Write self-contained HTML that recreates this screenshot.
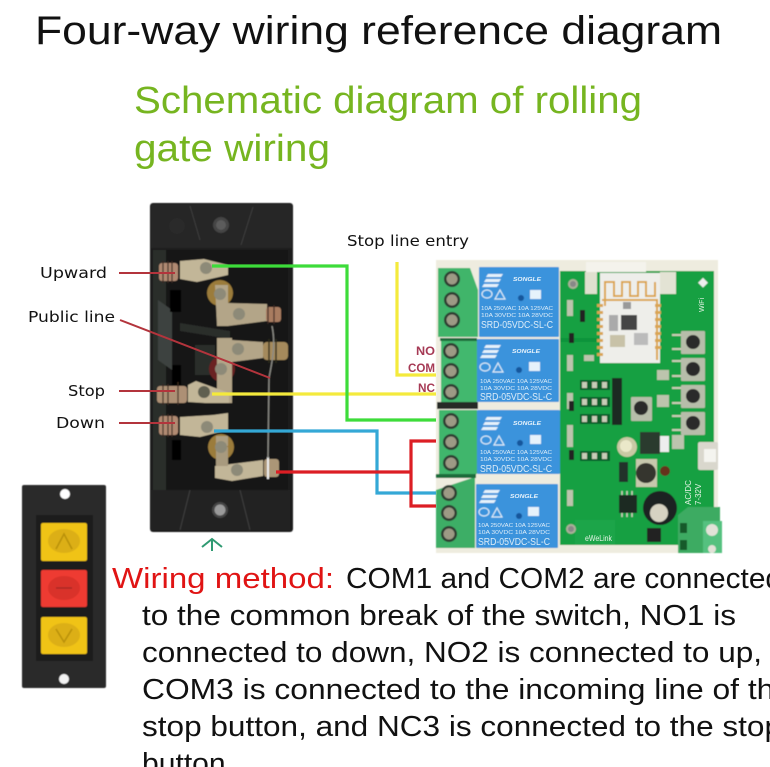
<!DOCTYPE html>
<html><head><meta charset="utf-8"><style>
html,body{margin:0;padding:0;background:#fff;width:770px;height:767px;overflow:hidden}
svg{display:block}
text{font-family:"Liberation Sans",sans-serif}
.rt{fill:#dcecf8;font-size:5.5px}
.rs{fill:#dcecf8;font-size:10px}
.rn{fill:#e6f2fb;font-size:5.5px;font-weight:bold;font-style:italic}
.lab{font-family:"DejaVu Sans",sans-serif;font-size:15px;fill:#111}
.b{font-size:29px;fill:#111}
</style></head><body>
<svg width="770" height="767" viewBox="0 0 770 767" xmlns="http://www.w3.org/2000/svg">
<defs>
<filter id="bl" x="-5%" y="-5%" width="110%" height="110%"><feGaussianBlur stdDeviation="0.5"/></filter>
<filter id="bl2" x="-5%" y="-5%" width="110%" height="110%"><feGaussianBlur stdDeviation="0.3"/></filter>
</defs>
<rect width="770" height="767" fill="#fff"/>

<text x="35" y="44" font-size="40" fill="#111" textLength="687" lengthAdjust="spacingAndGlyphs">Four-way wiring reference diagram</text>
<text x="134" y="113" font-size="38" fill="#76b520" textLength="508" lengthAdjust="spacingAndGlyphs">Schematic diagram of rolling</text>
<text x="134" y="161" font-size="38" fill="#76b520" textLength="196" lengthAdjust="spacingAndGlyphs">gate wiring</text>

<!-- switch body -->
<g filter="url(#bl)">
<rect x="150" y="203" width="143" height="329" rx="3" fill="#1d1d1d"/>
<rect x="151" y="204" width="141" height="44" fill="#262626"/>
<rect x="151" y="490" width="139" height="40" fill="#242424"/>
<rect x="166" y="250" width="122" height="240" fill="#151515"/>
<path d="M153 250V490H166V250Z" fill="#2b2e2c"/>
<path d="M158 300L172 310V370L158 360Z" fill="#3d4341"/>
<path d="M190 206L200 240M253 207L241 245M190 490L180 530M240 490L250 530" stroke="#3a3a3a" stroke-width="1.2" fill="none"/>
<circle cx="221" cy="225" r="8" fill="#444"/><circle cx="221" cy="225" r="5" fill="#5c5c5c"/>
<circle cx="220" cy="510" r="8" fill="#444"/><circle cx="220" cy="510" r="5.5" fill="#9a9a9a"/>
<circle cx="177" cy="226" r="8" fill="#2a2a2a"/>
<path d="M170 290h11v22h-11zM172 365h9v20h-9zM172 440h9v20h-9z" fill="#000"/>
<path d="M180 323l50 8v8l-50-8zM195 345h20v30h-20z" fill="#2a2d2c"/>

<!-- left screws -->
<rect x="159" y="263" width="19" height="18" rx="3" fill="#b08a72"/>
<path d="M163 261v22M168 261v22M172 261v22" stroke="#3a2a20" stroke-width="1.2"/>
<rect x="157" y="386" width="30" height="17" rx="3" fill="#ad9074"/>
<path d="M163 384v21M168 384v21M178 382v23" stroke="#3a2a20" stroke-width="1.2"/>
<rect x="159" y="416" width="19" height="19" rx="3" fill="#b08a72"/>
<path d="M163 414v23M168 414v23M172 414v23" stroke="#3a2a20" stroke-width="1.2"/>

<!-- rounds -->
<circle cx="220" cy="293" r="13" fill="#9b7b3a"/>
<circle cx="222" cy="369" r="13" fill="#6a2420"/>
<circle cx="221" cy="447" r="13" fill="#9b7b3a"/>

<!-- tabs -->
<path d="M180 261L204 259L228 265V275L197 282L180 279Z" fill="#c2b698"/>
<path d="M215 285H228V303L267 304V321L228 326H217Z" fill="#b3a588"/>
<path d="M217 338H232V340L263 342V358L232 362V403H217Z" fill="#b3a588"/>
<path d="M188 385L196 381L229 393V403H205L188 402Z" fill="#c2b698"/>
<path d="M180 417L213 415L228 413V430L200 437L180 435Z" fill="#c2b698"/>
<path d="M216 436H228V446H216Z" fill="#ad9f82"/>
<path d="M215 466L263 460V476L232 481L215 478Z" fill="#c2b698"/>
<path d="M216 447H228V466H216Z" fill="#a89a7e"/>

<!-- tab screws -->
<circle cx="206" cy="268" r="6" fill="#8d8a78"/>
<circle cx="220" cy="294" r="6" fill="#8d8a78"/>
<circle cx="239" cy="314" r="6" fill="#8d8a78"/>
<circle cx="238" cy="349" r="6" fill="#8d8a78"/>
<circle cx="221" cy="369" r="6" fill="#8d8a78"/>
<circle cx="204" cy="392" r="6" fill="#5e5e50"/>
<circle cx="207" cy="427" r="6" fill="#8d8a78"/>
<circle cx="221" cy="447" r="6" fill="#8d8a78"/>
<circle cx="237" cy="470" r="6" fill="#8d8a78"/>

<!-- right screws -->
<rect x="266" y="307" width="15" height="15" rx="3" fill="#a87c60"/>
<path d="M268 305v19M274 305v19" stroke="#3a2a20" stroke-width="1.2"/>
<rect x="263" y="342" width="25" height="18" rx="4" fill="#a58a5c"/>
<path d="M269 339v24M276 339v24" stroke="#2f2a1c" stroke-width="1.4"/>
<rect x="264" y="459" width="15" height="18" rx="3" fill="#ab9677"/>
<path d="M268 457v22" stroke="#eee" stroke-width="2"/>
<path d="M272 326C276 345 272 362 269 378L268 458" stroke="#8a8a84" stroke-width="1.4" fill="none"/>
</g>

<!-- leaders -->
<g stroke="#b3343c" stroke-width="2" fill="none">
<path d="M119 273H175"/><path d="M119 391H175"/><path d="M119 423H175"/>
<path d="M120 320L270 378"/>
</g>
<text class="lab" x="40" y="278" textLength="67" lengthAdjust="spacingAndGlyphs">Upward</text>
<text class="lab" x="28" y="322" textLength="87" lengthAdjust="spacingAndGlyphs">Public line</text>
<text class="lab" x="68" y="396" textLength="37" lengthAdjust="spacingAndGlyphs">Stop</text>
<text class="lab" x="56" y="428" textLength="49" lengthAdjust="spacingAndGlyphs">Down</text>
<text class="lab" x="347" y="246" textLength="122" lengthAdjust="spacingAndGlyphs">Stop line entry</text>

<path d="M202 547L212 539L222 547M212 540V551" stroke="#2f9a72" stroke-width="2" fill="none"/>

<!-- board -->
<g filter="url(#bl)">
<rect x="436" y="260" width="282" height="293" fill="#eeecdf"/>
<rect x="560" y="271" width="154" height="274" fill="#17a043"/>
<rect x="586" y="262" width="60" height="10" fill="#f4f3ec"/>
<rect x="585" y="272" width="12" height="22" fill="#dfe0cf"/>
<rect x="660" y="272" width="16" height="22" fill="#e3e3d4"/>
<rect x="560" y="338" width="60" height="4" fill="#0d8a36" opacity=".6"/>
<rect x="575" y="520" width="40" height="25" fill="#1aa548"/>
<circle cx="573" cy="284" r="5" fill="#aab09a"/><circle cx="573" cy="284" r="3" fill="#888"/>
<circle cx="571" cy="529" r="5" fill="#aab09a"/><circle cx="571" cy="529" r="3" fill="#888"/>
<rect x="700" y="279" width="7" height="7" fill="#eee" transform="rotate(45 703 282)"/>

<!-- module -->
<rect x="600" y="273" width="60" height="90" fill="#eeeeea"/>
<path d="M605 306V282H614V296H622V282H630V296H638V282H646V296H655V282" stroke="#dba54c" stroke-width="2" fill="none"/>
<path d="M602 300H657V360" stroke="#dba54c" stroke-width="2" fill="none"/>
<g fill="#d9a552">
<rect x="597" y="304" width="6" height="3"/><rect x="597" y="311" width="6" height="3"/><rect x="597" y="318" width="6" height="3"/><rect x="597" y="325" width="6" height="3"/><rect x="597" y="332" width="6" height="3"/><rect x="597" y="339" width="6" height="3"/><rect x="597" y="346" width="6" height="3"/><rect x="597" y="353" width="6" height="3"/>
<rect x="655" y="304" width="6" height="3"/><rect x="655" y="311" width="6" height="3"/><rect x="655" y="318" width="6" height="3"/><rect x="655" y="325" width="6" height="3"/><rect x="655" y="332" width="6" height="3"/><rect x="655" y="339" width="6" height="3"/><rect x="655" y="346" width="6" height="3"/>
</g>
<rect x="621" y="315" width="16" height="15" fill="#444"/>
<rect x="610" y="335" width="15" height="12" fill="#c8c2a8"/>
<rect x="609" y="315" width="9" height="16" fill="#aaa"/>
<rect x="634" y="333" width="14" height="12" fill="#bbb"/>
<rect x="623" y="302" width="8" height="7" fill="#999"/>

<!-- tact buttons -->
<g fill="#b7bdaa"><rect x="681" y="331" width="24" height="23" rx="1"/><rect x="681" y="358" width="24" height="23" rx="1"/><rect x="681" y="385" width="24" height="23" rx="1"/><rect x="681" y="412" width="24" height="23" rx="1"/><rect x="631" y="397" width="21" height="24" rx="1"/></g>
<g fill="#2c2c2c"><circle cx="693" cy="342" r="7"/><circle cx="693" cy="369" r="7"/><circle cx="693" cy="396" r="7"/><circle cx="693" cy="423" r="7"/><circle cx="641" cy="408" r="7"/></g>
<g stroke="#c9ceb9" stroke-width="2"><path d="M672 335h9M672 349h9M672 361h9M672 376h9M672 388h9M672 403h9M672 416h9M672 430h9"/></g>

<!-- header & small parts -->
<rect x="612" y="378" width="10" height="47" fill="#1b2a20"/>
<g fill="#0d5e2a"><rect x="580" y="380" width="30" height="10"/><rect x="580" y="397" width="30" height="10"/><rect x="580" y="414" width="30" height="10"/><rect x="580" y="451" width="30" height="10"/></g>
<g fill="#c7cdb7"><rect x="582" y="382" width="5" height="6"/><rect x="592" y="382" width="5" height="6"/><rect x="602" y="382" width="5" height="6"/><rect x="582" y="399" width="5" height="6"/><rect x="592" y="399" width="5" height="6"/><rect x="602" y="399" width="5" height="6"/><rect x="582" y="416" width="5" height="6"/><rect x="592" y="416" width="5" height="6"/><rect x="602" y="416" width="5" height="6"/><rect x="582" y="453" width="5" height="6"/><rect x="592" y="453" width="5" height="6"/><rect x="602" y="453" width="5" height="6"/></g>
<g fill="#bcc4ad"><rect x="567" y="300" width="6" height="16"/><rect x="567" y="355" width="6" height="16"/><rect x="567" y="393" width="6" height="16"/><rect x="567" y="425" width="6" height="22"/><rect x="567" y="490" width="6" height="16"/><rect x="584" y="355" width="10" height="6"/><rect x="657" y="370" width="12" height="10"/><rect x="657" y="395" width="12" height="12"/><rect x="672" y="435" width="12" height="14"/></g>
<g fill="#222"><rect x="580" y="310" width="5" height="12"/><rect x="569" y="333" width="5" height="10"/><rect x="569" y="401" width="5" height="10"/><rect x="569" y="450" width="5" height="10"/></g>

<circle cx="627" cy="447" r="10" fill="#c9c9a4"/><circle cx="626" cy="446" r="6" fill="#eae8c9"/>
<rect x="640" y="432" width="20" height="22" fill="#2b3a2f"/>
<rect x="660" y="436" width="9" height="16" fill="#eee"/>
<rect x="636" y="459" width="21" height="28" fill="#c7c8ad"/>
<circle cx="646" cy="473" r="10" fill="#35352f"/>
<rect x="619" y="462" width="9" height="20" fill="#24332a"/>
<circle cx="665" cy="471" r="5" fill="#65311f"/>
<rect x="619" y="495" width="18" height="18" fill="#1e2a22"/>
<path d="M622 491v4M627 491v4M632 491v4M622 513v4M627 513v4M632 513v4" stroke="#cfcfbe" stroke-width="1.5"/>
<rect x="647" y="528" width="14" height="14" fill="#222"/>
<circle cx="660" cy="508" r="17" fill="#1c2320"/>
<circle cx="659" cy="513" r="9" fill="#d6d2c2"/>

<!-- usb -->
<rect x="698" y="442" width="20" height="28" rx="2" fill="#d9d7cd"/>
<rect x="704" y="449" width="12" height="13" fill="#f4f4ef"/>

<!-- power terminal -->
<path d="M678 515L688 507H720V553H678Z" fill="#3cab62"/>
<path d="M703 521H722V553H703Z" fill="#55c17f"/>
<rect x="680" y="523" width="7" height="10" fill="#135a2c"/><rect x="680" y="540" width="7" height="10" fill="#135a2c"/>
<circle cx="712" cy="530" r="6" fill="#e2e2d8"/><circle cx="712" cy="549" r="4" fill="#e2e2d8"/>

<!-- green terminals -->
<path d="M438 268H470L478 290V337H438Z" fill="#3fb56a"/>
<path d="M441 341H477V402H441Z" fill="#42b86e"/>
<path d="M439 410H477V474L445 474H439Z" fill="#41b66c"/>
<path d="M436 490L475 477V548H436Z" fill="#3dae66"/>
<rect x="440" y="338" width="37" height="3" fill="#1f6c3a"/>
<rect x="437" y="402" width="41" height="7" fill="#252b27"/>
<rect x="436" y="474" width="40" height="4" fill="#1f6c3a"/>
<g fill="#2d3d33">
<circle cx="452" cy="279" r="8"/><circle cx="452" cy="300" r="8"/><circle cx="452" cy="320" r="8"/>
<circle cx="451" cy="351" r="8"/><circle cx="451" cy="371" r="8"/><circle cx="451" cy="392" r="8"/>
<circle cx="451" cy="421" r="8"/><circle cx="451" cy="442" r="8"/><circle cx="451" cy="463" r="8"/>
<circle cx="449" cy="493" r="8"/><circle cx="449" cy="513" r="8"/><circle cx="449" cy="534" r="8"/>
</g>
<g fill="#9d9a85">
<circle cx="452" cy="279" r="5.5"/><circle cx="452" cy="300" r="5.5"/><circle cx="452" cy="320" r="5.5"/>
<circle cx="451" cy="351" r="5.5"/><circle cx="451" cy="371" r="5.5"/><circle cx="451" cy="392" r="5.5"/>
<circle cx="451" cy="421" r="5.5"/><circle cx="451" cy="442" r="5.5"/><circle cx="451" cy="463" r="5.5"/>
<circle cx="449" cy="493" r="5.5"/><circle cx="449" cy="513" r="5.5"/><circle cx="449" cy="534" r="5.5"/>
</g>

<!-- relays -->
<rect x="479" y="267" width="80" height="70" rx="1" fill="#3a93dc"/>
<rect x="477" y="339" width="82" height="63" rx="1" fill="#3a93dc"/>
<rect x="477" y="410" width="83" height="64" rx="1" fill="#3a93dc"/>
<rect x="476" y="484" width="82" height="64" rx="1" fill="#3a93dc"/>
<path d="M488 274h15l-2 3h-15zM486 279h15l-2 3h-15zM484 284h15l-2 3h-15z" fill="#e6f2fb"/>
<path d="M486 345h15l-2 3h-15zM484 350h15l-2 3h-15zM482 355h15l-2 3h-15z" fill="#e6f2fb"/>
<path d="M487 417h15l-2 3h-15zM485 422h15l-2 3h-15zM483 427h15l-2 3h-15z" fill="#e6f2fb"/>
<path d="M485 490h15l-2 3h-15zM483 495h15l-2 3h-15zM481 500h15l-2 3h-15z" fill="#e6f2fb"/>
<g fill="none" stroke="#dcecf8" stroke-width="1.2">
<ellipse cx="487" cy="294" rx="5" ry="4"/><ellipse cx="485" cy="367" rx="5" ry="4"/><ellipse cx="486" cy="440" rx="5" ry="4"/><ellipse cx="484" cy="512" rx="5" ry="4"/>
<path d="M505 299l-5-9-5 9z"/><path d="M503 372l-5-9-5 9z"/><path d="M504 445l-5-9-5 9z"/><path d="M502 517l-5-9-5 9z"/>
</g>
<g fill="#17569c"><circle cx="521" cy="298" r="3"/><circle cx="519" cy="370" r="3"/><circle cx="520" cy="443" r="3"/><circle cx="519" cy="516" r="3"/></g>
<g fill="#e6f2fb"><rect x="530" y="290" width="11" height="9"/><rect x="529" y="362" width="11" height="9"/><rect x="530" y="435" width="11" height="9"/><rect x="528" y="507" width="11" height="9"/></g>
</g>
<g filter="url(#bl2)">
<text class="rn" x="513" y="281" textLength="28" lengthAdjust="spacingAndGlyphs">SONGLE</text>
<text class="rt" x="481" y="310" textLength="72" lengthAdjust="spacingAndGlyphs">10A 250VAC  10A 125VAC</text>
<text class="rt" x="481" y="317" textLength="72" lengthAdjust="spacingAndGlyphs">10A  30VDC  10A  28VDC</text>
<text class="rs" x="481" y="328" textLength="72" lengthAdjust="spacingAndGlyphs">SRD-05VDC-SL-C</text>
<text class="rn" x="512" y="353" textLength="28" lengthAdjust="spacingAndGlyphs">SONGLE</text>
<text class="rt" x="480" y="383" textLength="72" lengthAdjust="spacingAndGlyphs">10A 250VAC  10A 125VAC</text>
<text class="rt" x="480" y="390" textLength="72" lengthAdjust="spacingAndGlyphs">10A  30VDC  10A  28VDC</text>
<text class="rs" x="480" y="400" textLength="72" lengthAdjust="spacingAndGlyphs">SRD-05VDC-SL-C</text>
<text class="rn" x="513" y="425" textLength="28" lengthAdjust="spacingAndGlyphs">SONGLE</text>
<text class="rt" x="480" y="454" textLength="72" lengthAdjust="spacingAndGlyphs">10A 250VAC  10A 125VAC</text>
<text class="rt" x="480" y="461" textLength="72" lengthAdjust="spacingAndGlyphs">10A  30VDC  10A  28VDC</text>
<text class="rs" x="480" y="472" textLength="72" lengthAdjust="spacingAndGlyphs">SRD-05VDC-SL-C</text>
<text class="rn" x="510" y="498" textLength="28" lengthAdjust="spacingAndGlyphs">SONGLE</text>
<text class="rt" x="478" y="527" textLength="72" lengthAdjust="spacingAndGlyphs">10A 250VAC  10A 125VAC</text>
<text class="rt" x="478" y="534" textLength="72" lengthAdjust="spacingAndGlyphs">10A  30VDC  10A  28VDC</text>
<text class="rs" x="478" y="545" textLength="72" lengthAdjust="spacingAndGlyphs">SRD-05VDC-SL-C</text>
<text x="585" y="541" font-size="8" fill="#e5f3e5" textLength="27" lengthAdjust="spacingAndGlyphs">eWeLink</text>
<text x="0" y="0" font-size="7" fill="#e5f3e5" transform="translate(704 312) rotate(-90)">WiFi</text>
<text x="0" y="0" font-size="8" fill="#e5f3e5" transform="translate(691 505) rotate(-90)">AC/DC</text>
<text x="0" y="0" font-size="8" fill="#e5f3e5" transform="translate(701 505) rotate(-90)">7-32V</text>
</g>

<!-- NO COM NC -->
<g font-weight="bold" fill="#a63a55" font-size="12">
<text x="416" y="355" textLength="19" lengthAdjust="spacingAndGlyphs">NO</text>
<text x="408" y="372" textLength="27" lengthAdjust="spacingAndGlyphs">COM</text>
<text x="418" y="392" textLength="17" lengthAdjust="spacingAndGlyphs">NC</text>
</g>

<!-- wires -->
<g fill="none" stroke-width="3.2">
<path d="M397 262V375H436" stroke="#f4ea3c"/>
<path d="M212 394H436" stroke="#f4ea3c"/>
<path d="M212 266H347V420H436" stroke="#3ddc3a"/>
<path d="M214 431H377V493H436" stroke="#34a8d6"/>
<path d="M276 472H411" stroke="#dc1e24"/>
<path d="M436 441H411V506H436" stroke="#dc1e24"/>
</g>

<!-- button plate -->
<g filter="url(#bl)">
<rect x="22" y="485" width="84" height="203" rx="2" fill="#2b2a29"/>
<rect x="36" y="515" width="57" height="146" fill="#1d1c1b"/>
<circle cx="65" cy="494" r="5" fill="#fff"/>
<circle cx="64" cy="679" r="5" fill="#f2f2f2"/>
<rect x="41" y="523" width="46" height="38" rx="2" fill="#f0c314"/>
<rect x="41" y="570" width="46" height="37" rx="2" fill="#ee3b30"/>
<rect x="41" y="617" width="46" height="37" rx="2" fill="#f0c314"/>
<ellipse cx="64" cy="541" rx="16" ry="12" fill="#dcaf12"/>
<ellipse cx="64" cy="588" rx="16" ry="12" fill="#d9322a"/>
<ellipse cx="64" cy="635" rx="16" ry="12" fill="#dcaf12"/>
<path d="M56 549L64 534L72 549" stroke="#b89010" stroke-width="1.5" fill="none"/>
<path d="M56 588H72" stroke="#a92a25" stroke-width="1.5"/>
<path d="M56 629L64 642L72 629" stroke="#b89010" stroke-width="1.5" fill="none"/>
</g>

<!-- body text -->
<text x="112" y="588" font-size="29" fill="#e01414" textLength="222" lengthAdjust="spacingAndGlyphs">Wiring method:</text>
<text class="b" x="346" y="588" textLength="436" lengthAdjust="spacingAndGlyphs">COM1 and COM2 are connected</text>
<text class="b" x="142" y="625" textLength="594" lengthAdjust="spacingAndGlyphs">to the common break of the switch, NO1 is</text>
<text class="b" x="142" y="662" textLength="620" lengthAdjust="spacingAndGlyphs">connected to down, NO2 is connected to up,</text>
<text class="b" x="142" y="699" textLength="650" lengthAdjust="spacingAndGlyphs">COM3 is connected to the incoming line of the</text>
<text class="b" x="142" y="736" textLength="640" lengthAdjust="spacingAndGlyphs">stop button, and NC3 is connected to the stop</text>
<text class="b" x="142" y="773" textLength="92" lengthAdjust="spacingAndGlyphs">button.</text>
</svg>
</body></html>
